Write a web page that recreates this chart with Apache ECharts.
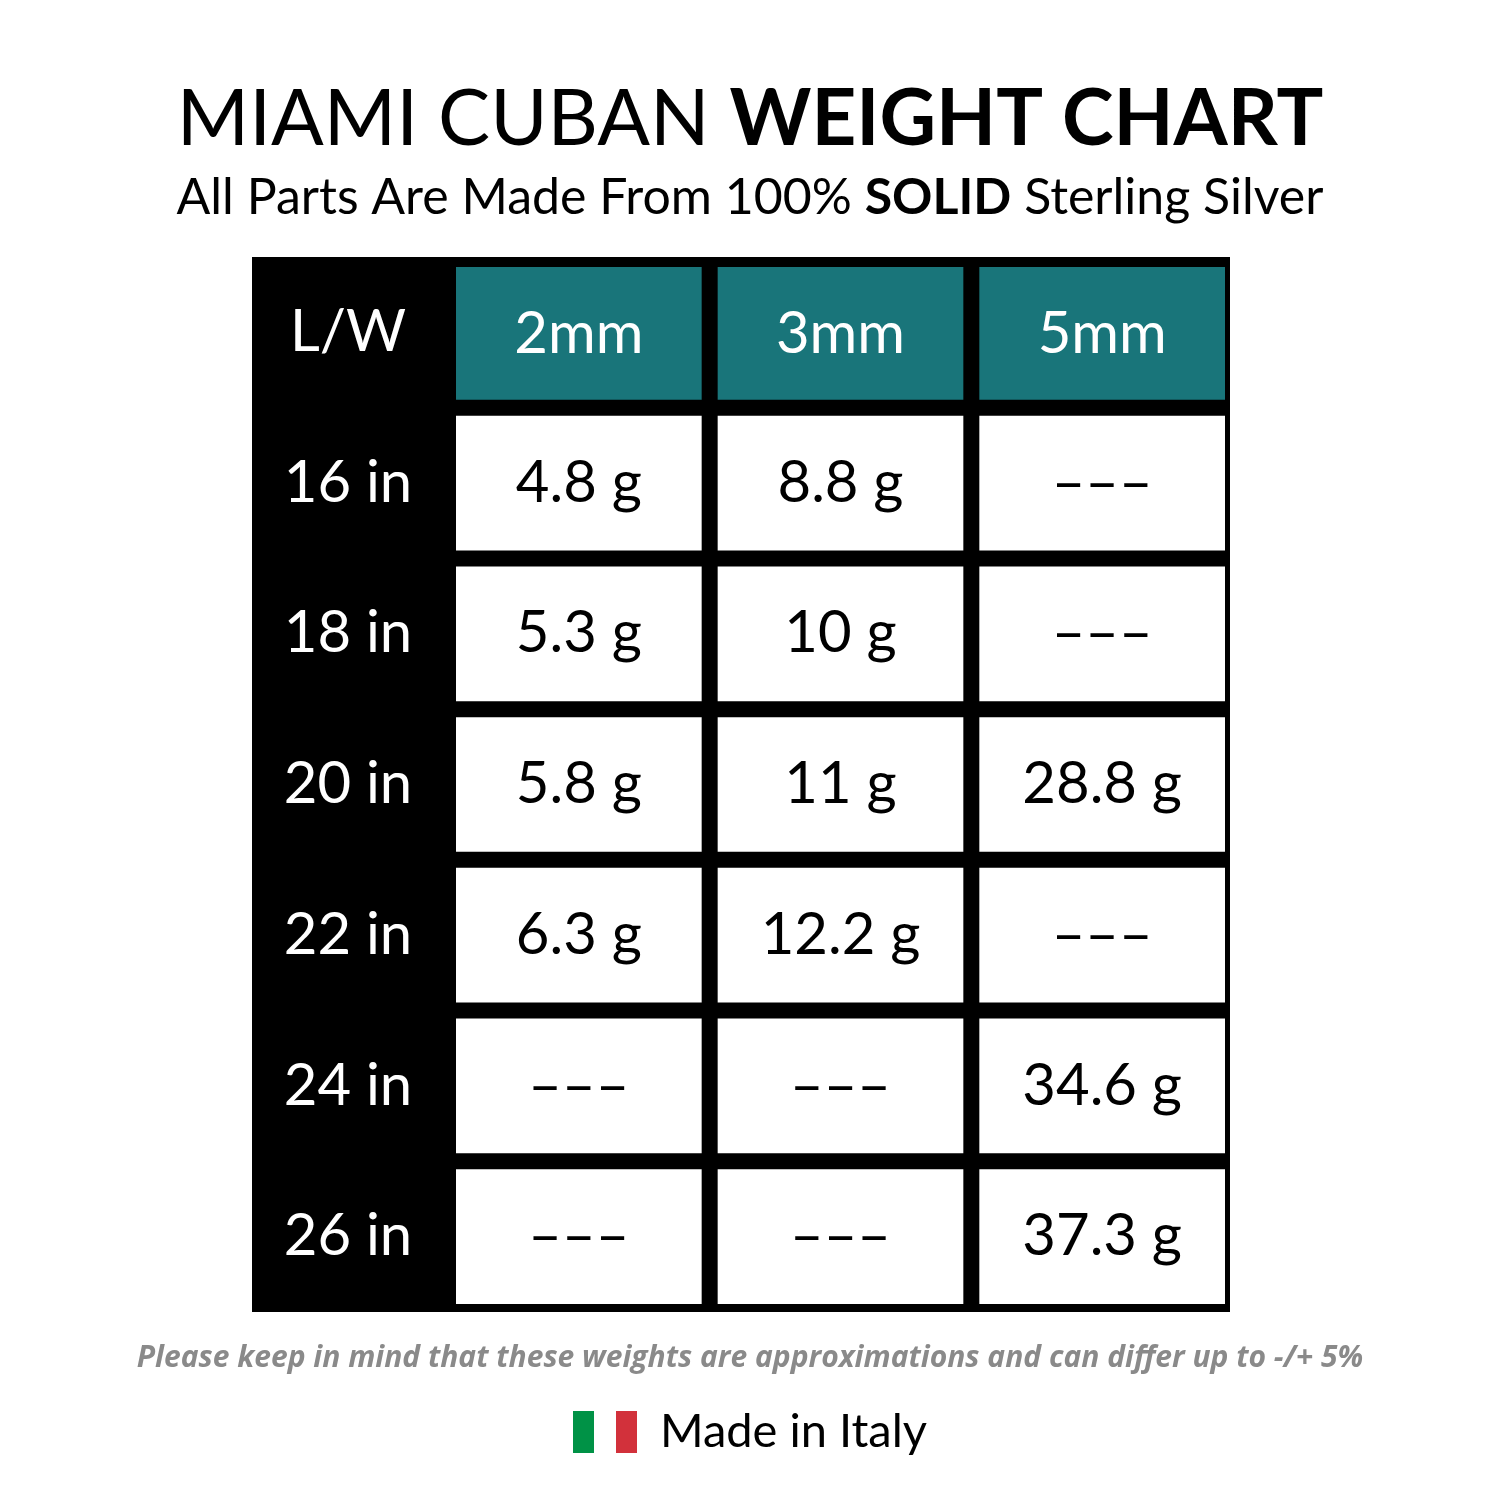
<!DOCTYPE html>
<html><head><meta charset="utf-8">
<script src="https://cdn.jsdelivr.net/npm/echarts@6/dist/echarts.min.js"></script>
<style>html,body{margin:0;padding:0;background:#fff}#c{width:1500px;height:1500px}</style>
</head><body><div id="c"></div>
<script>
const columns = ['2mm', '3mm', '5mm'];
const lengths = ['16 in', '18 in', '20 in', '22 in', '24 in', '26 in'];
const headerLabel = 'L/W';
const w2mm = ['4.8 g', '5.3 g', '5.8 g', '6.3 g', '–––', '–––'];
const w3mm = ['8.8 g', '10 g', '11 g', '12.2 g', '–––', '–––'];
const w5mm = ['–––', '–––', '28.8 g', '–––', '34.6 g', '37.3 g'];

const rowsCat = [headerLabel].concat(lengths);
const colVals = [w2mm, w3mm, w5mm];
const data = [];
columns.forEach((c, ci) => {
  data.push([ci, 0, c, 1]);
  lengths.forEach((l, ri) => data.push([ci, ri + 1, colVals[ci][ri], 0]));
});
const F = 'Lato, "Noto Sans", sans-serif';
const chart = echarts.init(document.getElementById('c'));
chart.setOption({
  animation: false,
  title: [
    {text: '{a|MIAMI CUBAN }{b|WEIGHT CHART}', left: 'center', top: 76,
     textStyle: {fontWeight: 'normal', rich: {a: {fontFamily: F, fontSize: 78, fontWeight: 'normal', color: '#000'}, b: {fontFamily: F, fontSize: 78, fontWeight: 'bold', color: '#000'}}}},
    {text: '{a|All Parts Are Made From 100% }{b|SOLID}{a| Sterling Silver}', left: 'center', top: 168,
     textStyle: {fontWeight: 'normal', rich: {a: {fontFamily: F, fontSize: 50, fontWeight: 'normal', color: '#000'}, b: {fontFamily: F, fontSize: 50, fontWeight: 'bold', color: '#000'}}}},
    {text: 'Please keep in mind that these weights are approximations and can differ up to -/+ 5%', left: 'center', top: 1338,
     textStyle: {fontFamily: '"Open Sans", sans-serif', fontSize: 30, fontStyle: 'italic', fontWeight: 'bold', color: '#8a8a8a'}},
    {text: 'Made in Italy', left: 655, top: 1403, textStyle: {fontFamily: F, fontSize: 47, fontWeight: 'normal', color: '#000'}}
  ],
  graphic: [
    {type: 'rect', shape: {x: 252, y: 257, width: 200, height: 1055}, style: {fill: '#000'}, z: -1},
    {type: 'rect', shape: {x: 573, y: 1411, width: 21, height: 42}, style: {fill: '#009246'}},
    {type: 'rect', shape: {x: 616, y: 1411, width: 21, height: 42}, style: {fill: '#d2313b'}}
  ],
  grid: {left: 445, right: 270, top: 257, bottom: 188, show: true, backgroundColor: '#000', borderWidth: 0},
  xAxis: {type: 'category', data: columns, show: false},
  yAxis: {type: 'category', data: rowsCat, inverse: true,
    axisLine: {show: false}, axisTick: {show: false}, splitLine: {show: false},
    axisLabel: {color: '#fff', fontFamily: F, fontSize: 58, align: 'center', margin: 97}},
  series: [{
    type: 'custom',
    data: data,
    renderItem: function (params, api) {
      const p = api.coord([api.value(0), api.value(1)]);
      const s = api.size([1, 1]);
      const hdr = api.value(3) === 1;
      const ix = 8, iy = 8;
      return {
        type: 'group',
        children: [
          {type: 'rect', shape: {x: p[0] - s[0] / 2 + ix + 3, y: p[1] - s[1] / 2 + (hdr ? 10 : iy), width: s[0] - 2 * ix, height: s[1] - (hdr ? 18 : 2 * iy)},
           style: {fill: hdr ? '#19757a' : '#fff'}},
          {type: 'text', x: p[0] + 3, y: p[1] + (hdr ? 2 : 0),
           style: {text: api.value(2), fontFamily: F, fontSize: 58, fill: hdr ? '#fff' : '#000', align: 'center', verticalAlign: 'middle'}}
        ]
      };
    }
  }]
});
</script></body></html>
